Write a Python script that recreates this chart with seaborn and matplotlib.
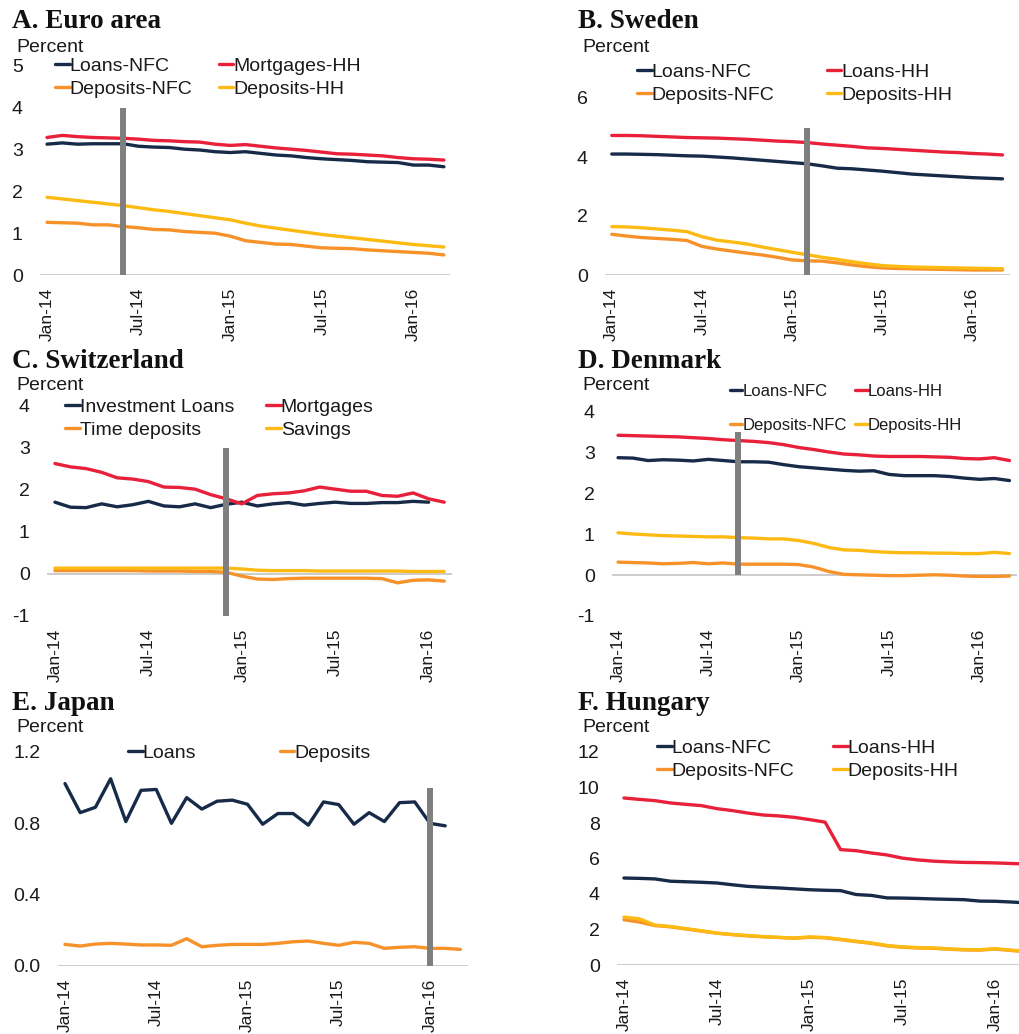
import matplotlib
matplotlib.use("Agg")
import matplotlib.pyplot as plt
import seaborn as sns
import numpy as np

sns.set_theme(style="white")
plt.rcParams['font.family'] = ['Liberation Sans', 'DejaVu Sans']

# ---------------- data (monthly, Jan-14 onward) ----------------
XTICK_POS = [0, 6, 12, 18, 24]
XTICK_LABELS = ["Jan-14", "Jul-14", "Jan-15", "Jul-15", "Jan-16"]

EA_LOANS_NFC = [3.13,3.16,3.13,3.14,3.14,3.14,3.08,3.06,3.05,3.01,2.99,2.95,2.93,2.95,2.91,2.87,2.85,2.81,2.78,2.76,2.74,2.71,2.70,2.69,2.63,2.63,2.59]
EA_MORT_HH = [3.29,3.34,3.31,3.29,3.28,3.27,3.25,3.22,3.21,3.19,3.18,3.13,3.10,3.12,3.08,3.04,3.01,2.98,2.94,2.90,2.89,2.87,2.85,2.81,2.78,2.77,2.75]
EA_DEP_NFC = [1.26,1.25,1.24,1.20,1.20,1.16,1.13,1.09,1.08,1.04,1.02,1.00,0.93,0.82,0.78,0.74,0.73,0.69,0.65,0.64,0.63,0.60,0.58,0.56,0.54,0.52,0.48]
EA_DEP_HH = [1.86,1.82,1.78,1.74,1.70,1.66,1.61,1.56,1.52,1.47,1.42,1.37,1.32,1.24,1.17,1.12,1.07,1.02,0.97,0.93,0.89,0.85,0.81,0.77,0.73,0.70,0.67]

SE_LOANS_NFC = [4.10,4.10,4.09,4.08,4.06,4.04,4.03,4.00,3.97,3.93,3.89,3.85,3.81,3.77,3.70,3.62,3.60,3.56,3.52,3.47,3.42,3.39,3.36,3.33,3.30,3.28,3.26]
SE_LOANS_HH = [4.73,4.73,4.72,4.70,4.68,4.66,4.65,4.64,4.62,4.60,4.57,4.54,4.52,4.49,4.44,4.40,4.36,4.31,4.29,4.26,4.23,4.20,4.17,4.15,4.12,4.10,4.07]
SE_DEP_NFC = [1.38,1.32,1.27,1.24,1.21,1.17,0.97,0.88,0.81,0.74,0.68,0.60,0.51,0.48,0.47,0.41,0.34,0.28,0.24,0.22,0.21,0.20,0.19,0.18,0.17,0.17,0.17]
SE_DEP_HH = [1.64,1.63,1.60,1.56,1.52,1.47,1.30,1.18,1.12,1.05,0.95,0.86,0.77,0.69,0.60,0.53,0.45,0.38,0.32,0.29,0.27,0.26,0.25,0.24,0.23,0.22,0.21]

CH_INV_LOANS = [1.71,1.59,1.58,1.67,1.60,1.65,1.73,1.62,1.60,1.67,1.58,1.66,1.71,1.62,1.67,1.70,1.64,1.68,1.71,1.68,1.68,1.70,1.70,1.73,1.71]
CH_MORTGAGES = [2.63,2.55,2.51,2.42,2.29,2.26,2.20,2.07,2.06,2.02,1.89,1.79,1.67,1.87,1.91,1.93,1.98,2.07,2.02,1.97,1.97,1.87,1.85,1.93,1.79,1.71]
CH_TIME_DEP = [0.08,0.08,0.08,0.08,0.08,0.08,0.07,0.07,0.07,0.06,0.06,0.04,-0.05,-0.12,-0.13,-0.11,-0.10,-0.10,-0.10,-0.10,-0.10,-0.11,-0.21,-0.15,-0.14,-0.17]
CH_SAVINGS = [0.14,0.14,0.14,0.14,0.14,0.14,0.14,0.14,0.14,0.14,0.14,0.14,0.12,0.09,0.08,0.08,0.08,0.07,0.07,0.07,0.07,0.07,0.07,0.06,0.06,0.06]

DK_LOANS_NFC = [2.88,2.87,2.81,2.83,2.82,2.80,2.84,2.81,2.78,2.78,2.77,2.71,2.66,2.63,2.60,2.57,2.55,2.56,2.47,2.44,2.44,2.44,2.42,2.38,2.35,2.37,2.32]
DK_LOANS_HH = [3.43,3.42,3.41,3.40,3.39,3.37,3.35,3.32,3.30,3.28,3.25,3.20,3.13,3.08,3.02,2.97,2.95,2.92,2.91,2.91,2.91,2.90,2.89,2.86,2.85,2.88,2.81]
DK_DEP_NFC = [0.32,0.31,0.30,0.28,0.29,0.31,0.28,0.30,0.27,0.27,0.27,0.27,0.26,0.20,0.09,0.02,0.01,0.00,-0.01,-0.01,0.00,0.01,0.00,-0.02,-0.03,-0.03,-0.02]
DK_DEP_HH = [1.04,1.01,0.99,0.97,0.96,0.95,0.94,0.94,0.92,0.91,0.89,0.89,0.85,0.78,0.68,0.62,0.61,0.58,0.56,0.55,0.55,0.54,0.54,0.53,0.53,0.56,0.53]

JP_LOANS = [1.023,0.86,0.89,1.05,0.81,0.985,0.99,0.80,0.944,0.88,0.924,0.93,0.907,0.795,0.855,0.855,0.79,0.92,0.905,0.795,0.86,0.81,0.916,0.92,0.80,0.786]
JP_DEPOSITS = [0.121,0.112,0.123,0.127,0.123,0.118,0.118,0.116,0.153,0.108,0.116,0.121,0.121,0.121,0.127,0.136,0.140,0.127,0.116,0.133,0.127,0.099,0.105,0.108,0.099,0.099,0.093]

HU_LOANS_NFC = [4.90,4.88,4.85,4.72,4.69,4.66,4.62,4.52,4.43,4.38,4.34,4.29,4.24,4.21,4.19,3.97,3.92,3.78,3.77,3.75,3.72,3.70,3.68,3.60,3.59,3.55,3.50]
HU_LOANS_HH = [9.41,9.33,9.26,9.13,9.05,8.98,8.81,8.70,8.56,8.45,8.40,8.32,8.19,8.05,6.50,6.44,6.31,6.20,6.02,5.92,5.85,5.81,5.78,5.77,5.75,5.72,5.69]
HU_DEP_NFC = [2.55,2.42,2.22,2.15,2.03,1.91,1.79,1.71,1.64,1.59,1.55,1.51,1.56,1.53,1.43,1.32,1.22,1.08,1.00,0.96,0.94,0.89,0.85,0.84,0.90,0.82,0.75]
HU_DEP_HH = [2.70,2.60,2.25,2.17,2.05,1.93,1.80,1.72,1.66,1.60,1.56,1.52,1.58,1.55,1.45,1.34,1.24,1.10,1.02,0.98,0.96,0.91,0.87,0.86,0.92,0.84,0.78]

# ---------------- styling ----------------
NAVY = "#172B49"
RED = "#E8203A"
ORANGE = "#F7922A"
YELLOW = "#FDBA12"
BAR = "#7F7F7F"
BASE = "#C8C8C8"
TXT = "#1A1A1A"

W, H = 1020, 1034
fig = plt.figure(figsize=(W / 100, H / 100), dpi=100)


def add_ax(l, r, t, b):
    return fig.add_axes([l / W, 1 - b / H, (r - l) / W, (b - t) / H])


def fx(x):
    return x / W


def fy(y):
    return 1 - y / H


def panel(box, xlim, ylim, yticks, yticklabels, series, vline, title, title_xy,
          pct_xy, leg_xy, leg_fs=14, colspace=1.3, labelspacing=0.28):
    ax = add_ax(*box)
    ax.axhline(0, color=BASE, lw=1.3, zorder=1)
    for name, vals, col in series:
        sns.lineplot(x=np.arange(len(vals)), y=vals, ax=ax, color=col, lw=2.4,
                     label=name, zorder=3)
    if vline is not None:
        ax.vlines(vline[0], vline[1], vline[2], color=BAR, lw=4.3, zorder=5)
    ax.set_xlim(*xlim)
    ax.set_ylim(*ylim)
    ax.set_yticks(yticks)
    ax.set_yticklabels(yticklabels)
    ax.set_xticks(XTICK_POS)
    ax.set_xticklabels(XTICK_LABELS, rotation=90)
    ax.tick_params(axis='y', length=0, pad=12.5, labelsize=14, labelcolor=TXT)
    ax.tick_params(axis='x', length=0, pad=9, labelsize=12.5, labelcolor=TXT)
    ax.set_xlabel("")
    ax.set_ylabel("")
    for s in ax.spines.values():
        s.set_visible(False)
    ax.patch.set_alpha(0)
    handles, labels = ax.get_legend_handles_labels()
    if len(handles) == 4:
        order = [0, 2, 1, 3]
    else:
        order = list(range(len(handles)))
    ax.legend([handles[i] for i in order], [labels[i] for i in order],
              loc="upper left", bbox_to_anchor=(fx(leg_xy[0]), fy(leg_xy[1])),
              bbox_transform=fig.transFigure, ncol=2, frameon=False,
              borderpad=0, borderaxespad=0, handlelength=0.75, handletextpad=0.0,
              columnspacing=colspace, labelspacing=labelspacing, fontsize=leg_fs,
              labelcolor=TXT)
    fig.text(fx(title_xy[0]), fy(title_xy[1]), title, family=['Liberation Serif', 'DejaVu Serif'],
             fontweight='bold', fontsize=19.5, va='center', ha='left', color='#111111')
    fig.text(fx(pct_xy[0]), fy(pct_xy[1]), "Percent", fontsize=14, va='center', ha='left',
             color=TXT)
    return ax


panel((40, 450, 66, 275), (-0.46, 26.4), (0, 5), [0, 1, 2, 3, 4, 5],
      ["0", "1", "2", "3", "4", "5"],
      [("Loans-NFC", EA_LOANS_NFC, NAVY), ("Mortgages-HH", EA_MORT_HH, RED),
       ("Deposits-NFC", EA_DEP_NFC, ORANGE), ("Deposits-HH", EA_DEP_HH, YELLOW)],
      (5, 0, 4), "A. Euro area", (12, 21), (16, 47), (55, 57), colspace=1.35)

panel((605, 1010, 68.5, 275), (-0.45, 26.5), (0, 7), [0, 2, 4, 6],
      ["0", "2", "4", "6"],
      [("Loans-NFC", SE_LOANS_NFC, NAVY), ("Loans-HH", SE_LOANS_HH, RED),
       ("Deposits-NFC", SE_DEP_NFC, ORANGE), ("Deposits-HH", SE_DEP_HH, YELLOW)],
      (13, 0, 5), "B. Sweden", (578, 21), (582, 48), (637, 63), colspace=2.7)

panel((47, 452, 406, 616), (-0.51, 25.5), (-1, 4), [-1, 0, 1, 2, 3, 4],
      ["-1", "0", "1", "2", "3", "4"],
      [("Investment Loans", CH_INV_LOANS, NAVY), ("Mortgages", CH_MORTGAGES, RED),
       ("Time deposits", CH_TIME_DEP, ORANGE), ("Savings", CH_SAVINGS, YELLOW)],
      (11, -1, 3), "C. Switzerland", (12, 361), (16, 386), (65, 398), colspace=1.65)

panel((612, 1017, 412, 616), (-0.4, 26.5), (-1, 4), [-1, 0, 1, 2, 3, 4],
      ["-1", "0", "1", "2", "3", "4"],
      [("Loans-NFC", DK_LOANS_NFC, NAVY), ("Loans-HH", DK_LOANS_HH, RED),
       ("Deposits-NFC", DK_DEP_NFC, ORANGE), ("Deposits-HH", DK_DEP_HH, YELLOW)],
      (8, 0, 3.5), "D. Denmark", (578, 361), (582, 386), (730, 384), leg_fs=12,
      colspace=0.5, labelspacing=1.12)

panel((58, 468, 752, 966), (-0.46, 26.5), (0, 1.2), [0, 0.4, 0.8, 1.2],
      ["0.0", "0.4", "0.8", "1.2"],
      [("Loans", JP_LOANS, NAVY), ("Deposits", JP_DEPOSITS, ORANGE)],
      (24, 0, 1.0), "E. Japan", (12, 703), (16, 728), (128, 744), colspace=4.3)

panel((617, 1020, 752, 965), (-0.45, 25.6), (0, 12), [0, 2, 4, 6, 8, 10, 12],
      ["0", "2", "4", "6", "8", "10", "12"],
      [("Loans-NFC", HU_LOANS_NFC, NAVY), ("Loans-HH", HU_LOANS_HH, RED),
       ("Deposits-NFC", HU_DEP_NFC, ORANGE), ("Deposits-HH", HU_DEP_HH, YELLOW)],
      None, "F. Hungary", (578, 703), (582, 728), (657, 739), colspace=2.0)

fig.savefig("out.png", dpi=100, facecolor="white")
